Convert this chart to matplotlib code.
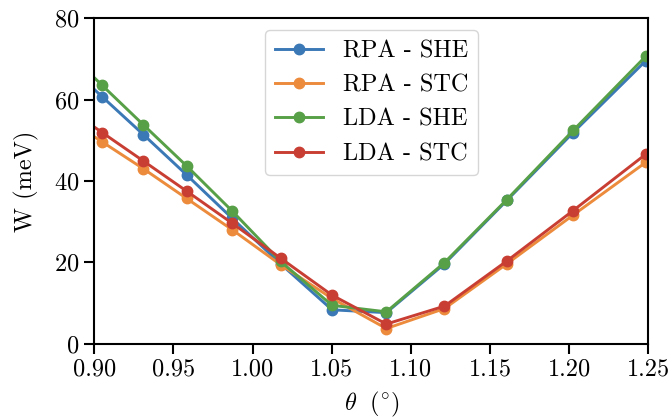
import numpy as np
import matplotlib
matplotlib.use("Agg")
import matplotlib.pyplot as plt

plt.rcParams['font.family'] = 'serif'
plt.rcParams['font.serif'] = ['cmr10', 'DejaVu Serif']
plt.rcParams['mathtext.fontset'] = 'cm'
plt.rcParams['axes.formatter.use_mathtext'] = True
plt.rcParams['font.size'] = 17.5

# twist angles (deg) of the commensurate cells
theta = [0.8803, 0.9050, 0.9310, 0.9583, 0.9871, 1.0177, 1.0502,
         1.0845, 1.1212, 1.1606, 1.2025, 1.2485]

# bandwidth W (meV)
rpa_she = [69.6, 60.7, 51.4, 41.5, 30.8, 19.6, 8.3, 7.6, 19.6, 35.2, 51.9, 69.6]
rpa_stc = [55.9, 49.6, 43.0, 35.7, 28.0, 19.4, 11.1, 3.7, 8.6, 19.6, 31.6, 44.6]
lda_she = [72.8, 63.5, 53.8, 43.7, 32.6, 20.2, 9.4, 7.8, 19.9, 35.4, 52.4, 70.7]
lda_stc = [58.6, 51.9, 44.9, 37.5, 29.6, 21.0, 11.9, 4.8, 9.2, 20.3, 32.7, 46.6]

series = [(rpa_she, 'RPA - SHE', '#3a78b6'),
          (rpa_stc, 'RPA - STC', '#ec8b3c'),
          (lda_she, 'LDA - SHE', '#57a047'),
          (lda_stc, 'LDA - STC', '#c93e33')]

fig = plt.figure(figsize=(6.71, 4.2), dpi=100)
ax = fig.add_axes([0.1405, 0.182, 0.8257, 0.7745])

for vals, lab, col in series:
    ax.plot(theta, vals, '-o', color=col, label=lab, lw=2.1, ms=7.5)

ax.set_xlim(0.90, 1.25)
ax.set_ylim(0, 80)
ax.set_xticks(np.arange(0.90, 1.2501, 0.05))
ax.set_yticks([0, 20, 40, 60, 80])
ax.xaxis.set_major_formatter(matplotlib.ticker.FormatStrFormatter('%.2f'))
ax.set_xlabel(r'$\theta\ \ (^{\circ})$', labelpad=7)
ax.set_ylabel('W (meV)', labelpad=11)

for sp in ax.spines.values():
    sp.set_linewidth(1.5)
ax.tick_params(length=7, width=1.5)

ax.legend(loc='upper center', frameon=True, edgecolor='#cccccc',
          fancybox=True, borderaxespad=0.5)

fig.savefig('out.png', dpi=100)
